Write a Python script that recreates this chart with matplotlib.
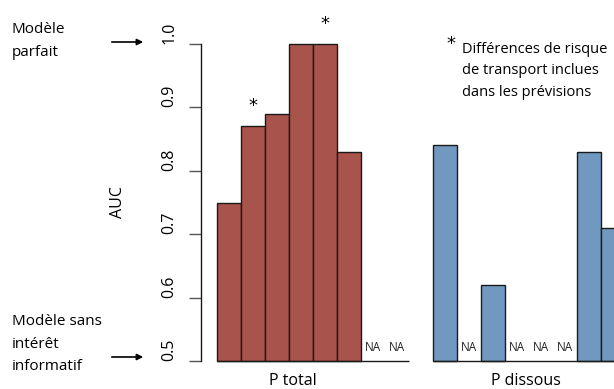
import matplotlib
matplotlib.use("Agg")
import matplotlib.pyplot as plt
import numpy as np

# Data
ptotal = [0.75, 0.87, 0.89, 1.00, 1.00, 0.83, None, None]
pdissous = [0.84, None, 0.62, None, None, None, 0.83, 0.71]
group_labels = ["P total", "P dissous"]
starred_total = [1, 4]  # indices with transport risk differences
yticks = [0.5, 0.6, 0.7, 0.8, 0.9, 1.0]
ytick_labels = ["0.5", "0.6", "0.7", "0.8", "0.9", "1.0"]

red = "#A8534B"
blue = "#7199BF"
font = "Open Sans"

W, H = 614, 389
fig = plt.figure(figsize=(W / 100, H / 100), dpi=100)

# axes geometry in pixels
x_spine = 201
slot = 24
x0 = 217
y_top, y_bot = 44, 361
xmin = -(x0 - x_spine) / slot
xmax = 17.0
right_px = x0 + xmax * slot
ax = fig.add_axes([x_spine / W, (H - y_bot) / H, (right_px - x_spine) / W, (y_bot - y_top) / H])
ax.set_xlim(xmin, xmax)
ax.set_ylim(0.5, 1.0)

def draw_group(vals, start, color):
    for i, v in enumerate(vals):
        x = start + i
        if v is None:
            ax.text(x + 0.5, 0.511, "NA", ha="center", va="bottom", fontsize=8.5,
                    family=font, color="#222222")
        else:
            ax.bar(x, v - 0.5, bottom=0.5, width=1.0, align="edge", color=color,
                   edgecolor="#1a1a1a", linewidth=1.0, clip_on=False)
    ax.plot([start, start + len(vals)], [0.5, 0.5], color="#1a1a1a", lw=1.0,
            clip_on=False, solid_capstyle="butt")

draw_group(ptotal, 0, red)
draw_group(pdissous, 9, blue)

for i in starred_total:
    ax.text(i + 0.5, ptotal[i] + 0.018, "*", ha="center", va="bottom", fontsize=13,
            family="DejaVu Sans")

for s in ["top", "right", "bottom"]:
    ax.spines[s].set_visible(False)
ax.spines["left"].set_linewidth(1.0)
ax.spines["left"].set_color("#1a1a1a")
ax.set_xticks([])
ax.set_yticks(yticks)
ax.set_yticklabels(ytick_labels, rotation=90, va="bottom", fontsize=11.5, family=font)
for lbl in ax.get_yticklabels():
    lbl.set_va("bottom")
ax.tick_params(axis="y", length=9, width=1.0, pad=8, color="#555555")
ax.set_ylabel("AUC", fontsize=11.5, family=font)
ax.yaxis.set_label_coords((126 - x_spine) / (right_px - x_spine), 0.5)

# group labels
ax.text((293 - x0) / slot, -(381 - y_bot) / (y_bot - y_top), group_labels[0],
        transform=ax.get_xaxis_transform(), ha="center", va="center", fontsize=11.5, family=font)
ax.text((526 - x0) / slot, -(381 - y_bot) / (y_bot - y_top), group_labels[1],
        transform=ax.get_xaxis_transform(), ha="center", va="center", fontsize=11.5, family=font)

# legend note
fig.text(446 / W, 1 - 44 / H, "*", ha="left", va="center", fontsize=13, family="DejaVu Sans")
fig.text(462 / W, 1 - 71 / H, "Différences de risque\nde transport inclues\ndans les prévisions",
         ha="left", va="center", fontsize=10.5, family=font, linespacing=1.6)

# left annotations
fig.text(12 / W, 1 - 41 / H, "Modèle\nparfait", ha="left", va="center", fontsize=11,
         family=font, linespacing=1.65)
fig.text(12 / W, 1 - 344 / H, "Modèle sans\nintérêt\ninformatif", ha="left", va="center",
         fontsize=11, family=font, linespacing=1.65)
for yp in [42, 357]:
    fig.add_artist(matplotlib.patches.FancyArrowPatch(
        (109 / W, 1 - yp / H), (146 / W, 1 - yp / H), transform=fig.transFigure,
        arrowstyle="-|>", mutation_scale=9, color="black", lw=1.2))

fig.savefig("out.png", dpi=100)
